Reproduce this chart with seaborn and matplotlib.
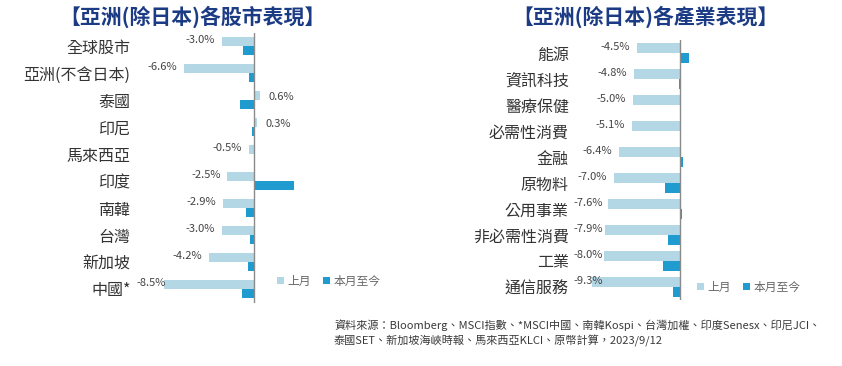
import matplotlib
matplotlib.use("Agg")
import matplotlib.pyplot as plt
import seaborn as sns
import pandas as pd

sns.set_theme(style="white")
plt.rcParams['font.family'] = ['Noto Sans CJK TC', 'DejaVu Sans']
plt.rcParams['axes.unicode_minus'] = False

# ---------------- data ----------------
series_names = ["上月", "本月至今"]

markets = ["全球股市", "亞洲(不含日本)", "泰國", "印尼", "馬來西亞",
           "印度", "南韓", "台灣", "新加坡", "中國*"]
markets_last = [-3.0, -6.6, 0.6, 0.3, -0.5, -2.5, -2.9, -3.0, -4.2, -8.5]
markets_mtd = [-1.0, -0.5, -1.3, -0.2, 0.0, 3.8, -0.8, -0.4, -0.6, -1.1]

sectors = ["能源", "資訊科技", "醫療保健", "必需性消費", "金融",
           "原物料", "公用事業", "非必需性消費", "工業", "通信服務"]
sectors_last = [-4.5, -4.8, -5.0, -5.1, -6.4, -7.0, -7.6, -7.9, -8.0, -9.3]
sectors_mtd = [0.9, -0.1, 0.0, 0.0, 0.3, -1.6, 0.2, -1.3, -1.8, -0.7]

title_left = "【亞洲(除日本)各股市表現】"
title_right = "【亞洲(除日本)各產業表現】"
footnote = ("資料來源：Bloomberg、MSCI指數、*MSCI中國、南韓Kospi、台灣加權、印度Senesx、印尼JCI、\n"
            "泰國SET、新加坡海峽時報、馬來西亞KLCI、原幣計算，2023/9/12")

LIGHT = "#b3d7e5"
DARK = "#1f9bd0"
W, H = 842, 366


def make_df(cats, last, mtd):
    return pd.DataFrame({
        "cat": cats * 2,
        "val": list(last) + list(mtd),
        "series": [series_names[0]] * len(cats) + [series_names[1]] * len(cats),
    })


def px_axes(fig, left, right, top, bottom):
    return fig.add_axes([left / W, 1 - bottom / H, (right - left) / W, (bottom - top) / H])


fig = plt.figure(figsize=(W / 100, H / 100), dpi=100)
renderer = fig.canvas.get_renderer()

panels = [
    dict(cats=markets, last=markets_last, mtd=markets_mtd, box=(150, 410, 32.5, 302.5),
         xlim=(-(254 - 150) / 10.6, (410 - 254) / 10.6), width=0.70, pad=14,
         legend_xy=(277, 281), title=title_left, title_x=192, min_left=136),
    dict(cats=sectors, last=sectors_last, mtd=sectors_mtd, box=(580, 820, 40, 300),
         xlim=(-(680 - 580) / 9.5, (820 - 680) / 9.5), width=0.76, pad=8,
         legend_xy=(697, 287), title=title_right, title_x=645, min_left=573),
]

for p in panels:
    ax = px_axes(fig, *p["box"])
    df = make_df(p["cats"], p["last"], p["mtd"])
    sns.barplot(data=df, y="cat", x="val", hue="series", orient="h",
                palette=[LIGHT, DARK], width=p["width"], dodge=True,
                saturation=1, linewidth=0, ax=ax, legend=True)
    ax.set_xlim(*p["xlim"])
    ax.set_ylim(len(p["cats"]) - 0.5, -0.5)
    ax.axvline(0, color="#8a8a8a", lw=1.0, zorder=5)
    for s in ax.spines.values():
        s.set_visible(False)
    ax.set_xticks([])
    ax.set_xlabel("")
    ax.set_ylabel("")
    ax.tick_params(axis="y", length=0, pad=p["pad"], labelsize=11.5, labelcolor="#333333")
    # value labels for previous month
    off = p["width"] / 4
    for i, v in enumerate(p["last"]):
        txt = f"{v:.1f}%"
        if v < 0:
            t = ax.annotate(txt, (v, i - off), xytext=(-5, 1), textcoords="offset points",
                            ha="right", va="center", fontsize=8, color="#444444")
            bb = t.get_window_extent(renderer)
            if bb.x0 < p["min_left"]:
                t.remove()
                ax.annotate(txt, (p["min_left"] / W, 0), xycoords=("figure fraction", "data"),
                            xytext=(0, 1), textcoords="offset points",
                            ha="left", va="center", fontsize=8, color="#444444",
                            annotation_clip=False)
                # y in data coordinates
                ax.texts[-1].xy = (p["min_left"] / W, i - off)
        else:
            ax.annotate(txt, (v, i - off), xytext=(6, -1), textcoords="offset points",
                        ha="left", va="center", fontsize=8, color="#444444")
    handles, labels = ax.get_legend_handles_labels()
    ax.legend(handles, labels, loc="center left",
              bbox_to_anchor=(p["legend_xy"][0] / W, 1 - p["legend_xy"][1] / H),
              bbox_transform=fig.transFigure, ncol=2, frameon=False,
              handlelength=0.6, handleheight=0.6, handletextpad=0.3, columnspacing=1.0,
              fontsize=8.5, labelcolor="#666666", borderpad=0, borderaxespad=0)
    fig.text(p["title_x"] / W, 1 - 17 / H, p["title"], ha="center", va="center",
             fontsize=15, fontweight="bold", color="#1c3b85")

fig.text(334 / W, 1 - 319 / H, footnote, ha="left", va="top", fontsize=8,
         color="#3a3a3a", linespacing=1.4)

fig.savefig("out.png", dpi=100)
